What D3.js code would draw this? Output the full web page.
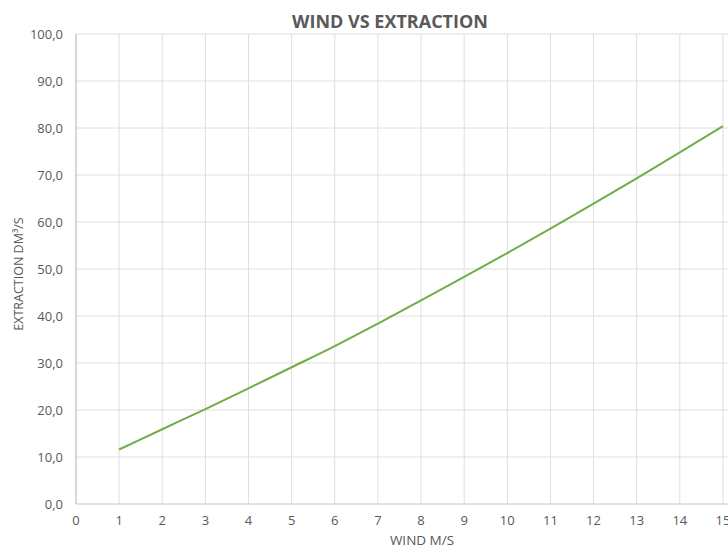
<!DOCTYPE html>
<html>
<head>
<meta charset="utf-8">
<script src="https://cdn.jsdelivr.net/npm/d3@7"></script>
<style>
  body { margin: 0; background: #fff; }
  svg { display: block; font-family: "Open Sans", sans-serif; }
</style>
</head>
<body>
<div id="chart"></div>
<script>
// Data
const wind = [1, 2, 3, 4, 5, 6, 7, 8, 9, 10, 11, 12, 13, 14, 15];
const extraction = [11.6, 15.9, 20.2, 24.6, 29.1, 33.6, 38.4, 43.3, 48.3, 53.4, 58.6, 63.9, 69.3, 74.8, 80.4];
const xTicks = d3.range(0, 16);
const yTicks = d3.range(0, 101, 10);

const W = 728, H = 549;
const plotLeft = 76, plotTop = 34, plotBottom = 504;

const svg = d3.select("#chart")
  .append("svg")
    .attr("width", W)
    .attr("height", H);

// Scales (plot area runs past the right edge, as in the crop)
const x = d3.scaleLinear().domain([0, 16]).range([plotLeft, plotLeft + 16 * 43.13]);
const y = d3.scaleLinear().domain([0, 100]).range([plotBottom, plotTop]);

// Gridlines
svg.append("g")
  .selectAll("line")
  .data(yTicks.filter(d => d > 0))
  .join("line")
    .attr("x1", plotLeft).attr("x2", W)
    .attr("y1", d => y(d)).attr("y2", d => y(d))
    .attr("stroke", "#dedede").attr("stroke-width", 1);

svg.append("g")
  .selectAll("line")
  .data(xTicks.filter(d => d > 0))
  .join("line")
    .attr("x1", d => x(d)).attr("x2", d => x(d))
    .attr("y1", plotTop).attr("y2", plotBottom)
    .attr("stroke", "#dedede").attr("stroke-width", 1);

// Axis lines
svg.append("line")
  .attr("x1", plotLeft).attr("x2", W)
  .attr("y1", plotBottom).attr("y2", plotBottom)
  .attr("stroke", "#c8c8c8").attr("stroke-width", 1.2);
svg.append("line")
  .attr("x1", plotLeft).attr("x2", plotLeft)
  .attr("y1", plotTop).attr("y2", plotBottom)
  .attr("stroke", "#bdbdbd").attr("stroke-width", 1.2);

// Tick labels
const fmt = d => d.toFixed(1).replace(".", ",");

svg.append("g")
  .selectAll("text")
  .data(yTicks)
  .join("text")
    .attr("x", plotLeft - 13)
    .attr("y", d => y(d) + 4.5)
    .attr("text-anchor", "end")
    .attr("fill", "#595959")
    .attr("font-size", 13)
    .text(fmt);

svg.append("g")
  .selectAll("text")
  .data(xTicks)
  .join("text")
    .attr("x", d => x(d))
    .attr("y", plotBottom + 21)
    .attr("text-anchor", "middle")
    .attr("fill", "#595959")
    .attr("font-size", 13)
    .text(d => d);

// Line
const line = d3.line()
  .x((d, i) => x(wind[i]))
  .y(d => y(d))
  .curve(d3.curveMonotoneX);

svg.append("path")
  .datum(extraction)
  .attr("fill", "none")
  .attr("stroke", "#70ad47")
  .attr("stroke-width", 2)
  .attr("d", line);

// Titles
svg.append("text")
  .attr("x", 390).attr("y", 28)
  .attr("text-anchor", "middle")
  .attr("fill", "#595959")
  .attr("font-size", 18)
  .attr("font-weight", "bold")
  .text("WIND VS EXTRACTION");

svg.append("text")
  .attr("x", 422).attr("y", 545)
  .attr("text-anchor", "middle")
  .attr("fill", "#595959")
  .attr("font-size", 13.5)
  .text("WIND M/S");

svg.append("text")
  .attr("transform", "translate(23,274) rotate(-90)")
  .attr("text-anchor", "middle")
  .attr("fill", "#595959")
  .attr("font-size", 12.5)
  .text("EXTRACTION DM³/S");
</script>
</body>
</html>
